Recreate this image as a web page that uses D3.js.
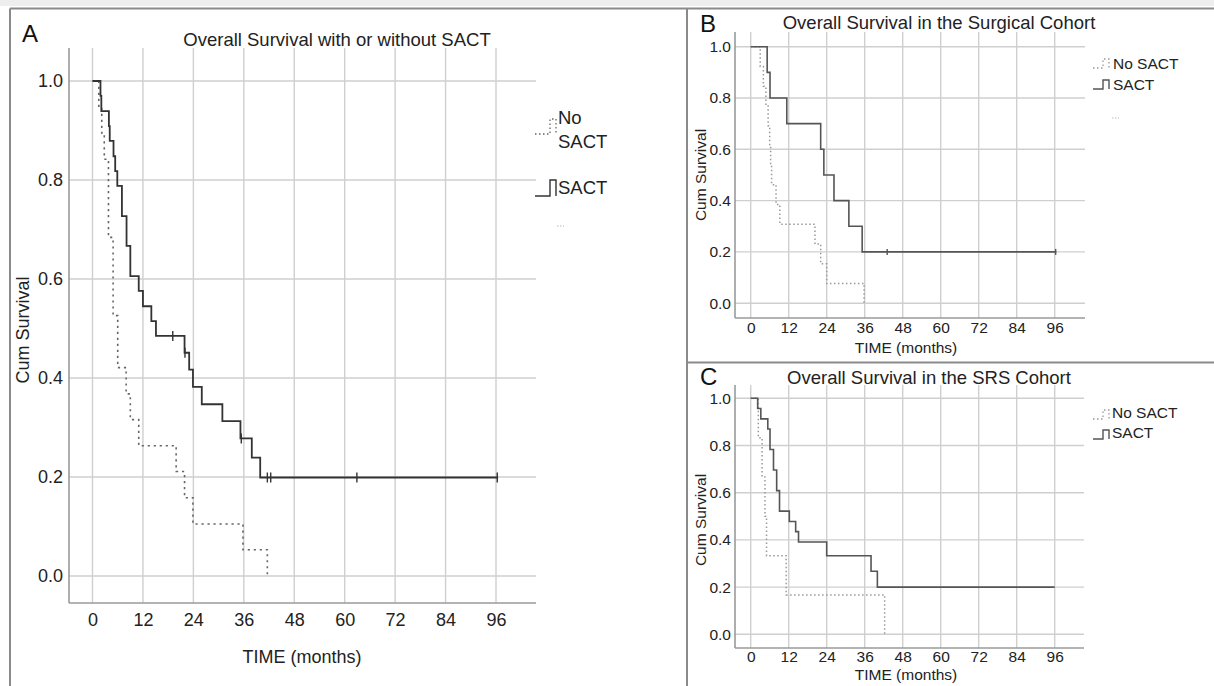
<!DOCTYPE html>
<html>
<head>
<meta charset="utf-8">
<script src="https://cdn.jsdelivr.net/npm/d3@7"></script>
<style>
body { margin: 0; background: #fff; }
svg { display: block; font-family: "Liberation Sans", Arial, sans-serif; }
</style>
</head>
<body>
<script>
// tick values shared by the three panels
var timeTicks = [0, 12, 24, 36, 48, 60, 72, 84, 96];
var survTicks = [0.0, 0.2, 0.4, 0.6, 0.8, 1.0];

// panel A - all patients, [months, cum survival]
var allNoSact = [[0, 1], [1.5, 0.947], [2.2, 0.895], [2.8, 0.842], [3.8, 0.684], [4.9, 0.526],
    [6.0, 0.421], [8.0, 0.368], [9.0, 0.316], [11.0, 0.263], [19.9, 0.211], [21.9, 0.158],
    [23.9, 0.105], [35.8, 0.053], [41.6, 0]];
var allSact = [[0, 1], [1.9, 0.970], [2.1, 0.939], [3.9, 0.909], [4.1, 0.879], [5.0, 0.848],
    [5.4, 0.818], [5.9, 0.788], [7.0, 0.727], [8.1, 0.667], [9.0, 0.606], [11.0, 0.576],
    [12.0, 0.545], [14.0, 0.515], [15.1, 0.485], [21.9, 0.451], [23.0, 0.417], [23.9, 0.382],
    [26.0, 0.347], [30.9, 0.313], [35.2, 0.278], [37.9, 0.239], [39.9, 0.199], [96.5, 0.199]];
var allSactCensor = [[19.1, 0.485], [22.0, 0.451], [35.4, 0.278], [41.6, 0.199], [42.4, 0.199],
    [62.9, 0.199], [96.3, 0.199]];

// panel B - surgical cohort
var surgNoSact = [[0, 1], [3.0, 0.923], [4.0, 0.846], [4.8, 0.769], [5.5, 0.692], [6.0, 0.615],
    [6.3, 0.538], [6.6, 0.462], [8.0, 0.385], [9.2, 0.308], [20.3, 0.231], [22.1, 0.154],
    [24.0, 0.077], [35.8, 0]];
var surgSact = [[0, 1], [5.2, 0.9], [6.1, 0.8], [11.4, 0.7], [22.1, 0.6], [23.1, 0.5],
    [26.3, 0.4], [31.0, 0.3], [35.2, 0.2], [96.5, 0.2]];
var surgSactCensor = [[43.1, 0.2], [96.3, 0.2]];

// panel C - SRS cohort
var srsNoSact = [[0, 1], [2.4, 0.833], [3.6, 0.667], [4.5, 0.5], [5.0, 0.333], [11.2, 0.167],
    [42.3, 0]];
var srsSact = [[0, 1], [2.2, 0.957], [3.2, 0.913], [5.4, 0.870], [6.1, 0.783], [7.2, 0.696],
    [8.2, 0.609], [9.1, 0.522], [12.2, 0.478], [14.2, 0.435], [15.1, 0.391], [24.0, 0.333],
    [38.0, 0.267], [40.0, 0.2], [96.0, 0.2]];
var srsSactCensor = [];

var W = 1214, H = 686;

var svg = d3.select("body").append("svg")
    .attr("width", W)
    .attr("height", H);

svg.append("rect").attr("width", W).attr("height", H).attr("fill", "#fff");
svg.append("rect").attr("width", W).attr("height", 6).attr("fill", "#eeeeee");

// frame lines
var frame = [
    [10, 8.5, W, 8.5],
    [10, 8.5, 10, H],
    [687, 8.5, 687, H],
    [687, 362.5, W, 362.5]
];
svg.selectAll(".frame").data(frame).enter().append("line")
    .attr("class", "frame")
    .attr("x1", function(d){ return d[0]; })
    .attr("y1", function(d){ return d[1]; })
    .attr("x2", function(d){ return d[2]; })
    .attr("y2", function(d){ return d[3]; })
    .style("stroke", "#8a8a8a")
    .style("stroke-width", 2);

function drawPanel(p) {
    var g = svg.append("g").attr("class", "panel");

    var x = d3.scaleLinear().domain([0, 96]).range([p.x0, p.x96]);
    var y = d3.scaleLinear().domain([0, 1]).range([p.y0, p.y1]);

    // grid
    g.selectAll(".vgrid").data(timeTicks).enter().append("line")
        .attr("x1", function(d){ return x(d); })
        .attr("x2", function(d){ return x(d); })
        .attr("y1", p.top)
        .attr("y2", p.bottom)
        .style("stroke", "#cfcfcf")
        .style("stroke-width", 1.4);
    g.selectAll(".hgrid").data(survTicks).enter().append("line")
        .attr("x1", p.left)
        .attr("x2", p.right)
        .attr("y1", function(d){ return y(d); })
        .attr("y2", function(d){ return y(d); })
        .style("stroke", "#cfcfcf")
        .style("stroke-width", 1.4);

    // axis lines
    g.append("line")
        .attr("x1", p.left).attr("x2", p.left)
        .attr("y1", p.top).attr("y2", p.bottom)
        .style("stroke", "#9a9a9a").style("stroke-width", 1.6);
    g.append("line")
        .attr("x1", p.left).attr("x2", p.right)
        .attr("y1", p.bottom).attr("y2", p.bottom)
        .style("stroke", "#9a9a9a").style("stroke-width", 1.6);

    // tick labels
    var xAxis = d3.axisBottom(x).tickValues(timeTicks).tickSize(0).tickPadding(p.xPad)
        .tickFormat(d3.format("d"));
    var gx = g.append("g")
        .attr("transform", "translate(0," + p.bottom + ")")
        .call(xAxis);
    var yAxis = d3.axisLeft(y).tickValues(survTicks).tickSize(0).tickPadding(p.yPad)
        .tickFormat(d3.format(".1f"));
    var gy = g.append("g")
        .attr("transform", "translate(" + p.left + ",0)")
        .call(yAxis);
    [gx, gy].forEach(function(a){
        a.select(".domain").remove();
        a.selectAll("text")
            .style("font-size", p.tickSize + "px")
            .style("font-family", "'Liberation Sans', Arial, sans-serif")
            .style("fill", "#222");
    });

    // survival curves
    var line = d3.line()
        .x(function(d){ return x(d[0]); })
        .y(function(d){ return y(d[1]); })
        .curve(d3.curveStepAfter);

    g.append("path")
        .datum(p.noSact)
        .attr("d", line)
        .style("fill", "none")
        .style("stroke", p.dotColor)
        .style("stroke-width", p.dotWidth)
        .style("stroke-dasharray", p.dash);

    g.append("path")
        .datum(p.sact)
        .attr("d", line)
        .style("fill", "none")
        .style("stroke", p.lineColor)
        .style("stroke-width", p.lineWidth);

    g.selectAll(".censor").data(p.censor).enter().append("line")
        .attr("class", "censor")
        .attr("x1", function(d){ return x(d[0]); })
        .attr("x2", function(d){ return x(d[0]); })
        .attr("y1", function(d){ return y(d[1]) - p.censorH; })
        .attr("y2", function(d){ return y(d[1]) + p.censorH; })
        .style("stroke", p.lineColor)
        .style("stroke-width", 1.4);

    // titles
    g.append("text")
        .attr("x", p.letterX).attr("y", p.letterY)
        .style("font-size", p.letterSize + "px")
        .style("fill", "#111")
        .text(p.letter);
    g.append("text")
        .attr("x", p.titleX).attr("y", p.titleY)
        .attr("dy", "0.35em")
        .attr("text-anchor", "middle")
        .style("font-size", p.titleSize + "px")
        .style("fill", "#222")
        .text(p.title);
    g.append("text")
        .attr("x", p.xLabelX).attr("y", p.xLabelY)
        .attr("dy", "0.35em")
        .attr("text-anchor", "middle")
        .style("font-size", p.labelSize + "px")
        .style("fill", "#222")
        .text("TIME (months)");
    g.append("text")
        .attr("transform", "translate(" + p.yLabelX + "," + p.yLabelY + ") rotate(-90)")
        .attr("dy", "0.35em")
        .attr("text-anchor", "middle")
        .style("font-size", p.labelSize + "px")
        .style("fill", "#222")
        .text("Cum Survival");

    // legend
    var L = p.legend;
    g.append("path")
        .attr("d", "M" + L.gx0 + "," + L.dotY1 + "H" + L.gx1 + "V" + L.dotY0 + "H" + L.gx2 + "V" + L.dotY1)
        .style("fill", "none")
        .style("stroke", p.dotColor)
        .style("stroke-width", 1.3)
        .style("stroke-dasharray", "1.5,2.5");
    g.append("path")
        .attr("d", "M" + L.gx0 + "," + L.solY1 + "H" + L.gx1 + "V" + L.solY0 + "H" + L.gx2 + "V" + L.solY1)
        .style("fill", "none")
        .style("stroke", p.lineColor)
        .style("stroke-width", 1.4);
    L.noLines.forEach(function(t, i){
        g.append("text")
            .attr("x", L.tx).attr("y", L.noY + i * L.lineGap)
            .attr("dy", "0.35em")
            .style("font-size", L.size + "px")
            .style("fill", "#222")
            .text(t);
    });
    g.append("text")
        .attr("x", L.tx).attr("y", L.sactY)
        .attr("dy", "0.35em")
        .style("font-size", L.size + "px")
        .style("fill", "#222")
        .text("SACT");
    if (L.markY) {
        g.append("line")
            .attr("x1", L.markX).attr("x2", L.markX + 7)
            .attr("y1", L.markY).attr("y2", L.markY)
            .style("stroke", "#bbb")
            .style("stroke-width", 1)
            .style("stroke-dasharray", "1.5,1.5");
    }
}

drawPanel({
    letter: "A", letterX: 22, letterY: 42, letterSize: 24,
    title: "Overall Survival with or without SACT", titleX: 337, titleY: 40, titleSize: 18.5,
    x0: 92.5, x96: 496, y0: 576, y1: 81,
    left: 69, right: 536, top: 48, bottom: 603,
    xPad: 10, yPad: 6, tickSize: 18, labelSize: 18,
    xLabelX: 302, xLabelY: 657, yLabelX: 23, yLabelY: 330,
    noSact: allNoSact, sact: allSact, censor: allSactCensor, censorH: 5,
    lineColor: "#333", lineWidth: 1.8, dotColor: "#666", dotWidth: 1.6, dash: "2.2,3.8",
    legend: { gx0: 535, gx1: 550, gx2: 556, dotY0: 119, dotY1: 134, solY0: 180, solY1: 196,
        tx: 558, noLines: ["No", "SACT"], noY: 118, lineGap: 24, sactY: 188, size: 18.5,
        markX: 557, markY: 226 }
});

drawPanel({
    letter: "B", letterX: 700, letterY: 32, letterSize: 24,
    title: "Overall Survival in the Surgical Cohort", titleX: 939, titleY: 23, titleSize: 18.5,
    x0: 750.7, x96: 1054.7, y0: 303.2, y1: 46.7,
    left: 735, right: 1085, top: 32, bottom: 318,
    xPad: 4, yPad: 4, tickSize: 15.5, labelSize: 15.5,
    xLabelX: 906, xLabelY: 348, yLabelX: 701, yLabelY: 175,
    noSact: surgNoSact, sact: surgSact, censor: surgSactCensor, censorH: 3,
    lineColor: "#555", lineWidth: 1.6, dotColor: "#999", dotWidth: 1.5, dash: "1.5,2.5",
    legend: { gx0: 1093, gx1: 1103, gx2: 1109, dotY0: 59, dotY1: 68, solY0: 80, solY1: 89,
        tx: 1113, noLines: ["No SACT"], noY: 64, lineGap: 0, sactY: 85, size: 15.5,
        markX: 1112, markY: 118 }
});

drawPanel({
    letter: "C", letterX: 700, letterY: 385, letterSize: 24,
    title: "Overall Survival in the SRS Cohort", titleX: 929, titleY: 378, titleSize: 18.5,
    x0: 750.7, x96: 1054.7, y0: 634.3, y1: 398.3,
    left: 735, right: 1084, top: 385, bottom: 648,
    xPad: 3, yPad: 4, tickSize: 15.5, labelSize: 15.5,
    xLabelX: 906, xLabelY: 675, yLabelX: 701, yLabelY: 520,
    noSact: srsNoSact, sact: srsSact, censor: srsSactCensor, censorH: 3,
    lineColor: "#555", lineWidth: 1.6, dotColor: "#999", dotWidth: 1.5, dash: "1.5,2.5",
    legend: { gx0: 1093, gx1: 1103, gx2: 1109, dotY0: 410, dotY1: 419, solY0: 430, solY1: 439,
        tx: 1112, noLines: ["No SACT"], noY: 413, lineGap: 0, sactY: 433, size: 15.5,
        markY: 0 }
});
</script>
</body>
</html>
